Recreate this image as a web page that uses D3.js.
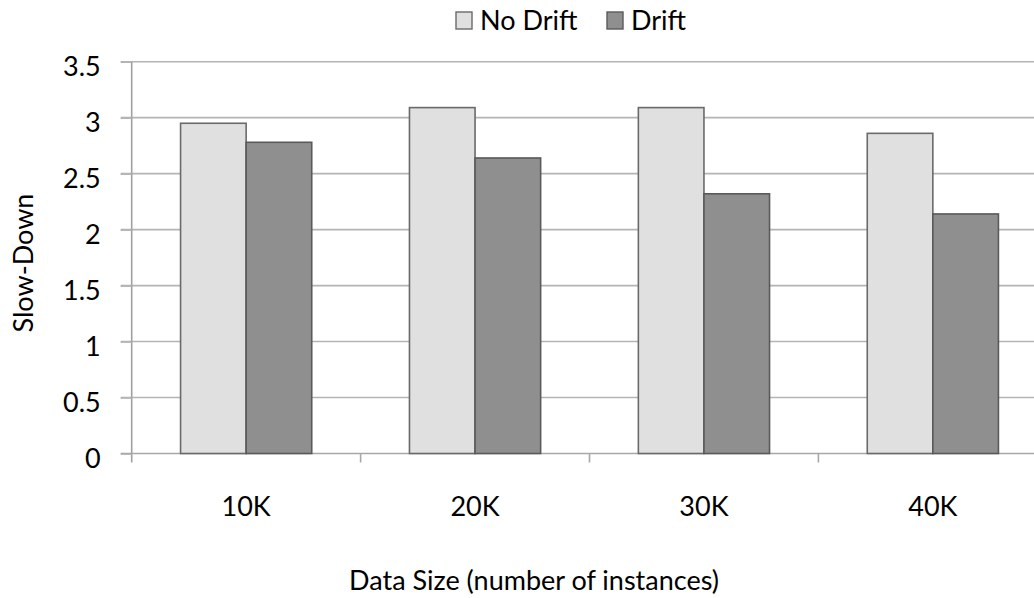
<!DOCTYPE html>
<html>
<head>
<meta charset="utf-8">
<script src="https://cdn.jsdelivr.net/npm/d3@7"></script>
<style>
  html, body { margin: 0; padding: 0; background: #fff; }
  svg { display: block; }
  text { font-family: Lato, "Open Sans", sans-serif; fill: #000; }
</style>
</head>
<body>
<svg id="chart" width="1034" height="598"></svg>
<script>
// ---- data ----
const categories = ["10K", "20K", "30K", "40K"];
const seriesNames = ["No Drift", "Drift"];
const noDrift = [2.95, 3.09, 3.09, 2.86];
const drift = [2.78, 2.64, 2.32, 2.14];
const yTicks = [0, 0.5, 1, 1.5, 2, 2.5, 3, 3.5];
const yTickLabels = ["0", "0.5", "1", "1.5", "2", "2.5", "3", "3.5"];
const xTitle = "Data Size (number of instances)";
const yTitle = "Slow-Down";

(function () {
const seriesValues = [noDrift, drift];
const fills = ["#e0e0e0", "#8f8f8f"];
const strokes = ["#6a6a6a", "#5a5a5a"];

const svg = d3.select("#chart");
const pLeft = 131.7, pRight = 1047.3, pTop = 61.7, pBottom = 453.5;
const fontSize = 27;

const y = d3.scaleLinear().domain([0, 3.5]).range([pBottom, pTop]);
const x0 = d3.scaleBand().domain(categories).range([pLeft, pRight]).padding(0);
const x1 = d3.scaleBand().domain(seriesNames).range([0, x0.bandwidth()])
  .paddingInner(0).paddingOuter(0.745);

// gridlines
svg.append("g").selectAll("line").data(yTicks.filter(d => d > 0)).join("line")
  .attr("x1", pLeft - 11).attr("x2", pRight)
  .attr("y1", d => y(d)).attr("y2", d => y(d))
  .attr("stroke", "#b4b4b4").attr("stroke-width", 1.6);

// y axis via d3 axis
const yAxis = d3.axisLeft(y).tickValues(yTicks)
  .tickFormat((d, i) => yTickLabels[i]).tickSize(11).tickPadding(20);
const gy = svg.append("g").attr("transform", `translate(${pLeft},0)`).call(yAxis);
gy.select(".domain").attr("stroke", "#a0a0a0").attr("stroke-width", 1.6)
  .attr("d", `M0,${pTop}V${pBottom + 9}`);
gy.selectAll(".tick line").attr("stroke", "#b4b4b4").attr("stroke-width", 1.6);
gy.selectAll(".tick text").attr("font-size", fontSize).attr("font-family", "Lato")
  .attr("fill", "#000").attr("dy", "0.5em");

// x axis baseline and ticks at category boundaries
const bounds = categories.map(c => x0(c)).concat([x0(categories[categories.length - 1]) + x0.bandwidth()]);
svg.append("line").attr("x1", pLeft - 11).attr("x2", pRight)
  .attr("y1", y(0)).attr("y2", y(0)).attr("stroke", "#a8a8a8").attr("stroke-width", 1.6);
svg.append("g").selectAll("line").data(bounds.slice(1)).join("line")
  .attr("x1", d => d).attr("x2", d => d)
  .attr("y1", y(0)).attr("y2", y(0) + 9)
  .attr("stroke", "#a8a8a8").attr("stroke-width", 1.6);

// bars
const groups = svg.append("g").selectAll("g").data(categories).join("g")
  .attr("transform", c => `translate(${x0(c)},0)`);
groups.selectAll("rect")
  .data((c, i) => seriesNames.map((s, j) => ({ s, j, v: seriesValues[j][i] })))
  .join("rect")
  .attr("x", d => x1(d.s))
  .attr("width", x1.bandwidth())
  .attr("y", d => y(d.v))
  .attr("height", d => y(0) - y(d.v))
  .attr("fill", d => fills[d.j])
  .attr("stroke", d => strokes[d.j])
  .attr("stroke-width", 1.6);

// x labels
svg.append("g").selectAll("text").data(categories).join("text")
  .attr("x", c => x0(c) + x0.bandwidth() / 2)
  .attr("y", 516)
  .attr("text-anchor", "middle")
  .attr("font-size", fontSize)
  .text(c => c);

// axis titles
svg.append("text").attr("x", 534).attr("y", 590)
  .attr("text-anchor", "middle").attr("font-size", fontSize).text(xTitle);
svg.append("text")
  .attr("transform", "translate(33,263) rotate(-90)")
  .attr("text-anchor", "middle").attr("font-size", fontSize).text(yTitle);

// legend
const legendX = [456, 607];
const lg = svg.append("g").selectAll("g").data(seriesNames).join("g")
  .attr("transform", (s, i) => `translate(${legendX[i]},12)`);
lg.append("rect").attr("width", 16).attr("height", 17)
  .attr("fill", (s, i) => fills[i]).attr("stroke", (s, i) => strokes[i]).attr("stroke-width", 1.4);
lg.append("text").attr("x", 24).attr("y", 18).attr("font-size", fontSize).text(s => s);
})();
</script>
</body>
</html>
